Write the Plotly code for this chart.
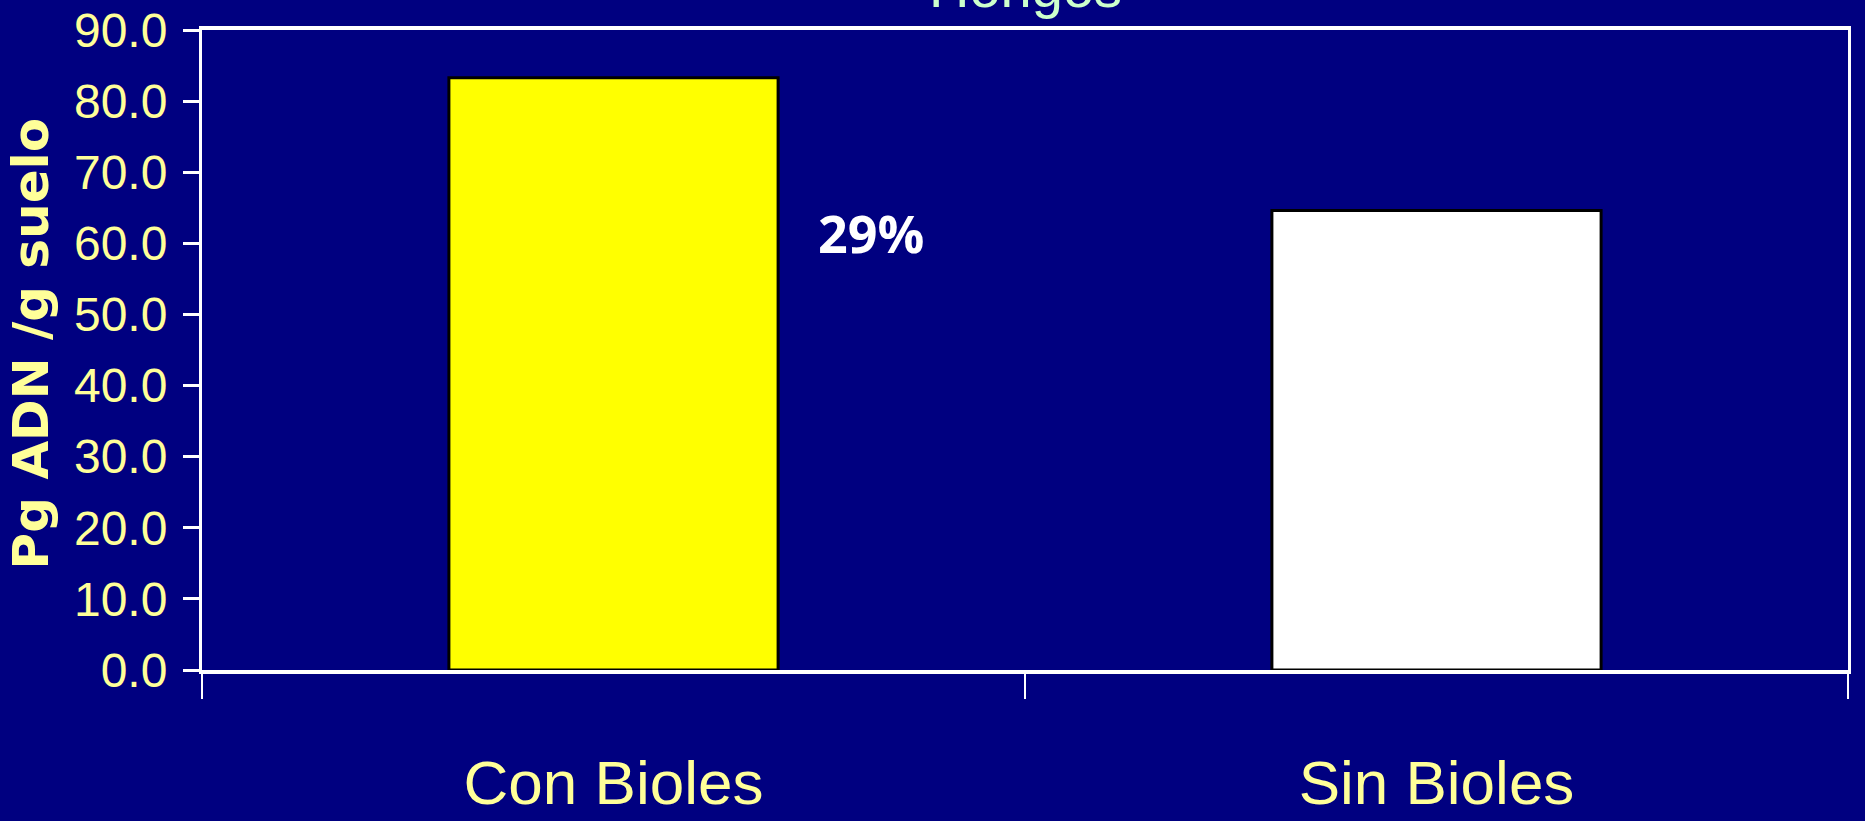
import plotly.graph_objects as go

# Fungal DNA per gram of soil, with and without biol application
categories = ["Con Bioles", "Sin Bioles"]
values = [83.3, 64.6]
bar_colors = ["#FFFF00", "#FFFFFF"]
y_ticks = [0, 10, 20, 30, 40, 50, 60, 70, 80, 90]
y_tick_labels = [f"{v:.1f}" for v in y_ticks]

increase_pct = round((values[0] / values[1] - 1) * 100)

NAVY = "#000080"
PALE_YELLOW = "#FFFF99"
NARROW = "Liberation Sans Narrow, Arial Narrow, Liberation Sans, sans-serif"

fig = go.Figure(
    go.Bar(
        x=categories,
        y=values,
        width=0.4,
        marker=dict(color=bar_colors, line=dict(color="#000000", width=3)),
        hoverinfo="x+y",
    )
)

fig.update_layout(
    width=1865,
    height=821,
    margin=dict(l=202, r=17, t=30, b=151),
    paper_bgcolor=NAVY,
    plot_bgcolor=NAVY,
    showlegend=False,
    bargap=0.6,
)

fig.update_yaxes(
    range=[0, 90],
    tickvals=y_ticks,
    ticktext=y_tick_labels,
    automargin=False,
    showgrid=False,
    zeroline=False,
    showline=True,
    linecolor="#FFFFFF",
    linewidth=3,
    mirror=True,
    ticks="outside",
    ticklen=16,
    tickwidth=3,
    tickcolor="#FFFFFF",
    ticklabelstandoff=6,
    ticklabeloverflow="allow",
    tickfont=dict(family=NARROW, size=48, color=PALE_YELLOW),
)

fig.update_xaxes(
    automargin=False,
    showgrid=False,
    showline=True,
    linecolor="#FFFFFF",
    linewidth=4,
    mirror=True,
    ticks="outside",
    tickson="boundaries",
    ticklen=25,
    tickwidth=2,
    tickcolor="#FFFFFF",
    ticklabelstandoff=56,
    tickfont=dict(family=NARROW, size=62, color=PALE_YELLOW),
)

# Chart title, partly clipped by the top of the page
fig.add_annotation(
    text="Hongos",
    xref="paper", yref="paper",
    x=0.5, y=1.014,
    xanchor="center", yanchor="bottom",
    showarrow=False,
    font=dict(family="Liberation Sans, Arial, sans-serif", size=56, color="#CCFFCC"),
)

# Vertical axis title
fig.add_annotation(
    text="<b>Pg ADN /g suelo</b>",
    xref="paper", yref="paper",
    x=-0.104, y=0.51,
    xanchor="center", yanchor="middle",
    textangle=-90,
    showarrow=False,
    font=dict(family="DejaVu Sans, Verdana, sans-serif", size=50, color=PALE_YELLOW),
)

# Relative increase of the treated soil over the untreated one
fig.add_annotation(
    text=f"<b>{increase_pct}%</b>",
    xref="paper", yref="y",
    x=0.4065, y=61.5,
    xanchor="center", yanchor="middle",
    showarrow=False,
    font=dict(family="Open Sans, sans-serif", size=52, color="#FFFFFF"),
)

fig.write_html("out.html")
